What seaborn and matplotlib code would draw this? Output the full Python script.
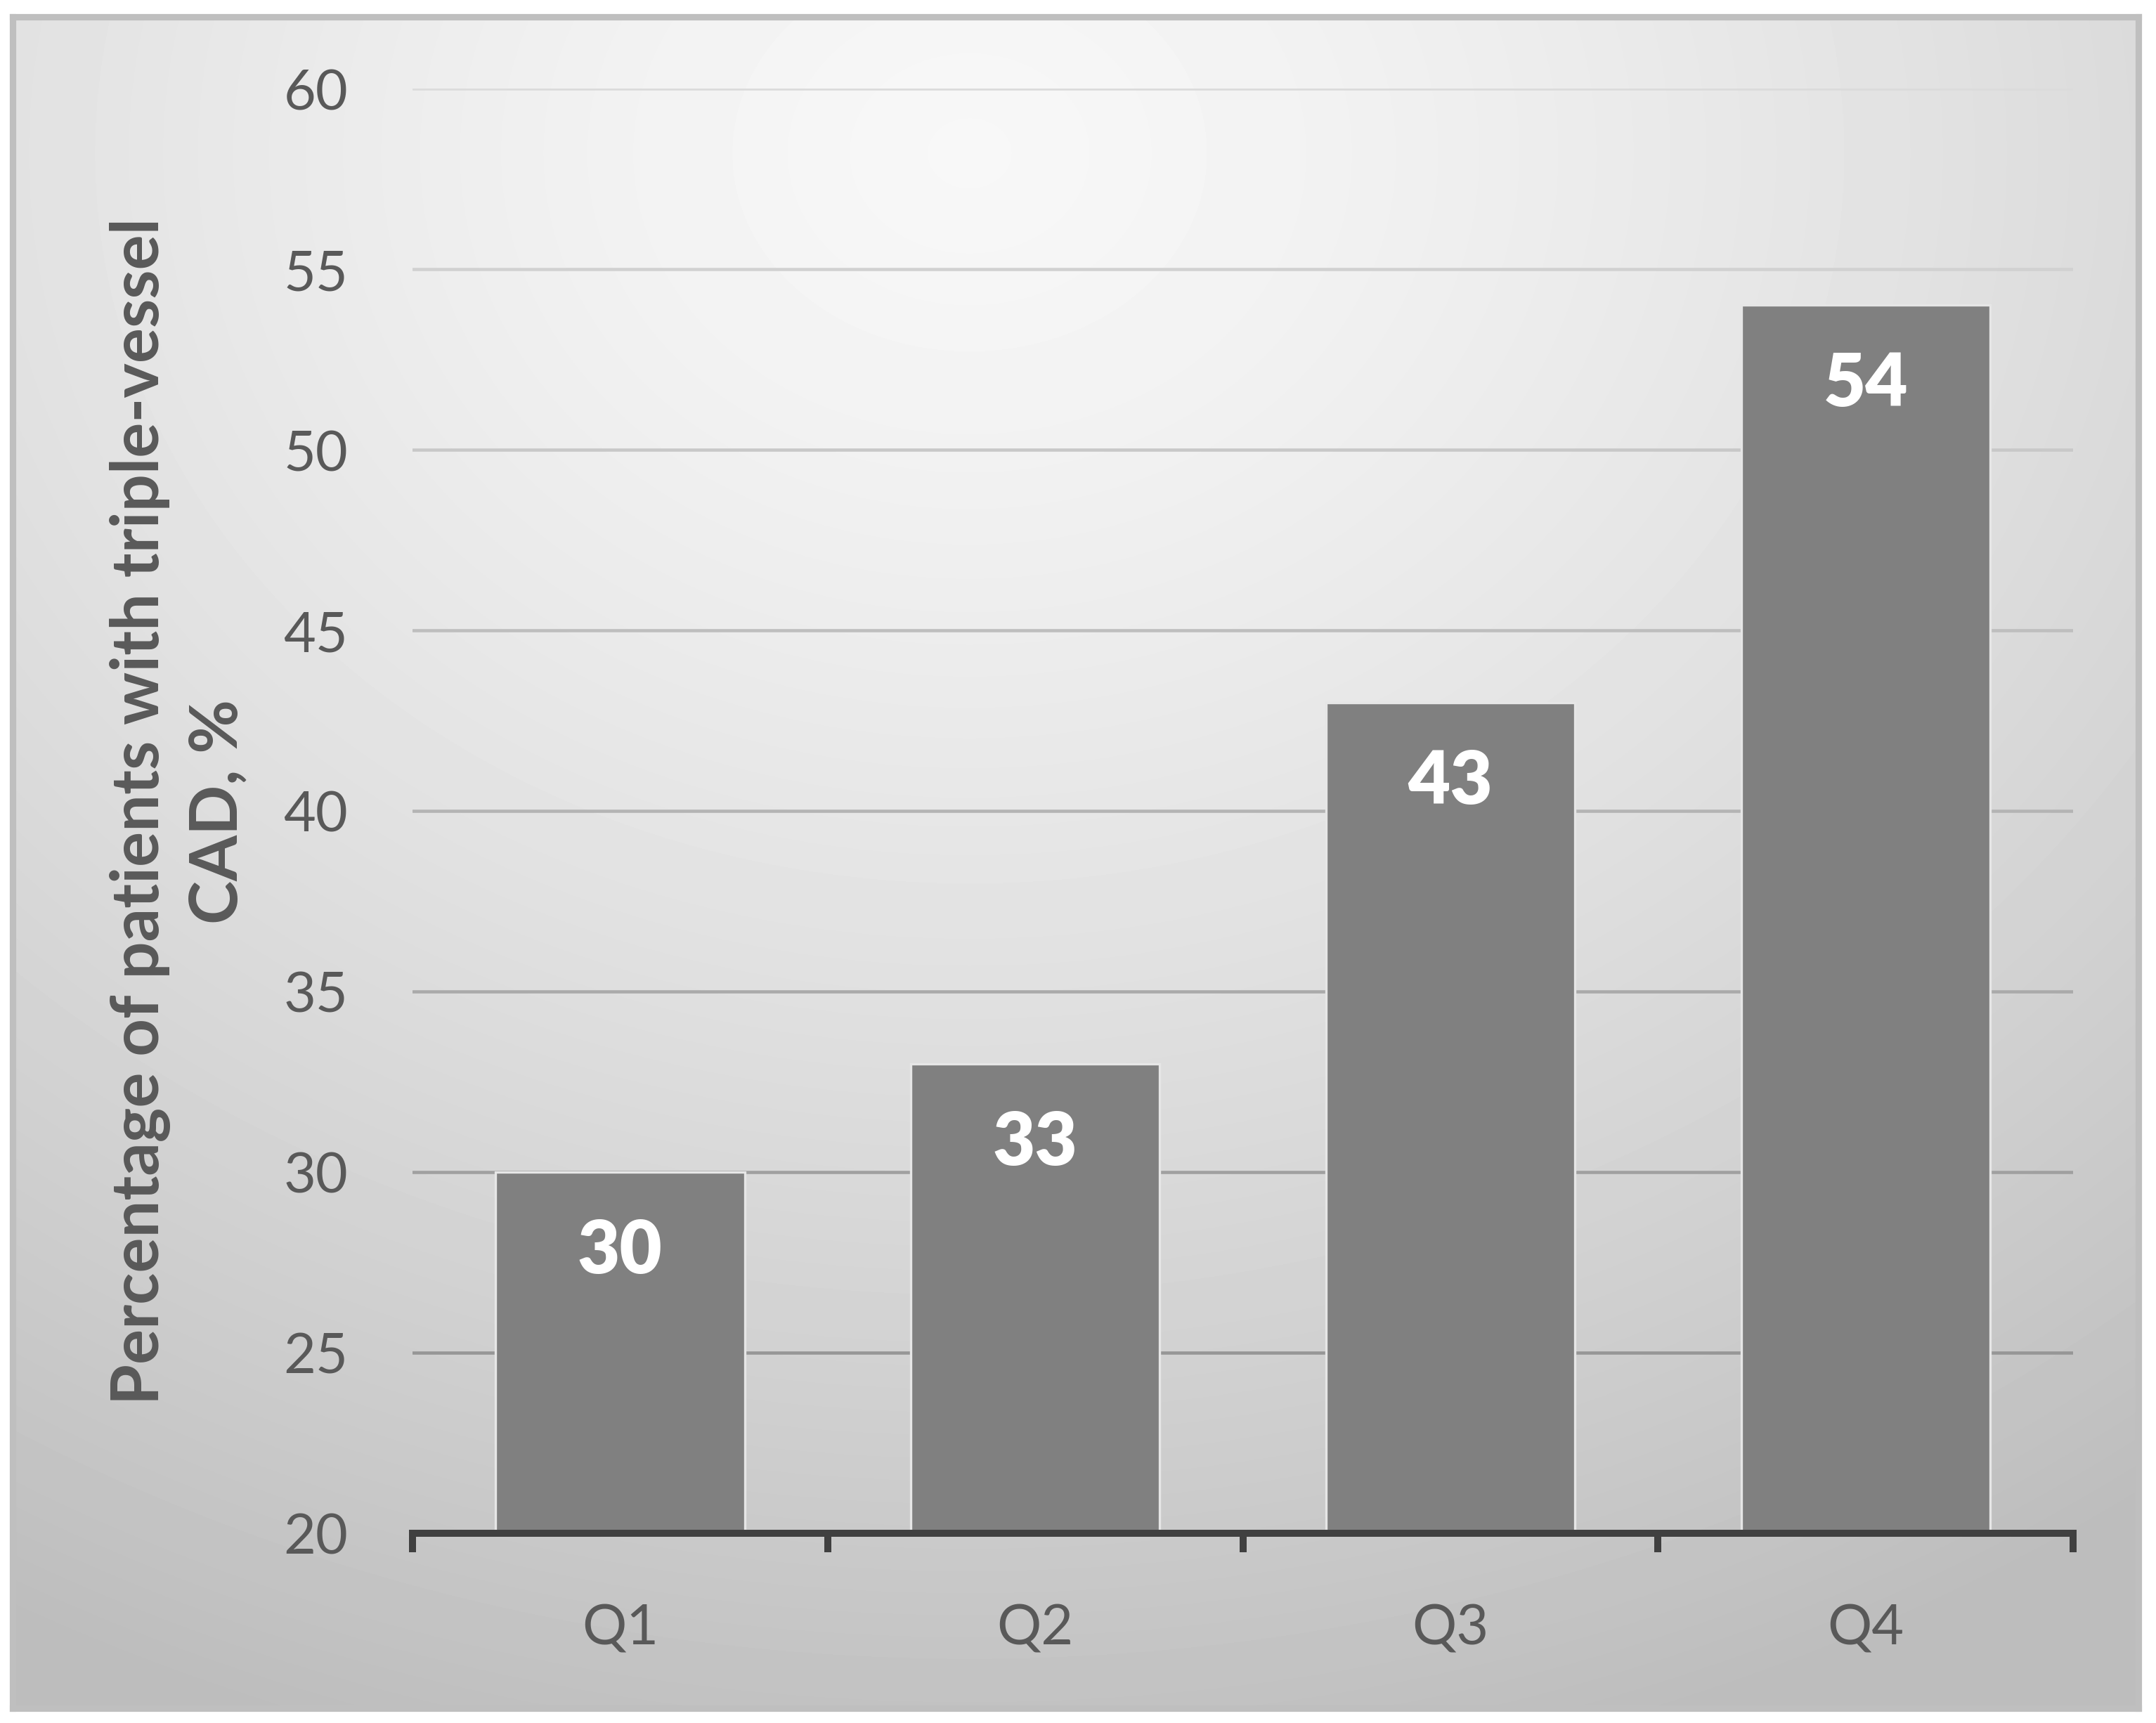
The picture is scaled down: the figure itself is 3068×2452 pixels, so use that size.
import matplotlib
matplotlib.use("Agg")
import matplotlib.pyplot as plt
import numpy as np
import pandas as pd
import seaborn as sns

quartiles = ["Q1", "Q2", "Q3", "Q4"]
pct_triple_vessel = [30, 33, 43, 54]
y_ticks = [20, 25, 30, 35, 40, 45, 50, 55, 60]

TEXT_GRAY = "#595959"

sns.set_theme(style="white")
plt.rcParams["font.family"] = ["Lato", "DejaVu Sans"]

fig = plt.figure(figsize=(3068 / 300, 2453 / 300), dpi=300)
fig.patch.set_facecolor("white")

# gradient panel behind the chart
bg = fig.add_axes([0.006, 0.0086, 0.986, 0.9812], zorder=0)
yy, xx = np.mgrid[0:1:600j, 0:1:750j]
dist = np.sqrt((xx - 0.45) ** 2 + ((yy - 0.08) / 1.05) ** 2)
shade = np.clip(0.97 - 0.25 * dist ** 1.35, 0.74, 1.0)
bg.imshow(shade, cmap="gray", vmin=0, vmax=1, aspect="auto",
          extent=[0, 1, 1, 0], interpolation="bilinear")
bg.set_xticks([])
bg.set_yticks([])
for s in bg.spines.values():
    s.set_color("#BFBFBF")
    s.set_linewidth(2.2)

ax = fig.add_axes([0.1913, 0.1101, 0.7703, 0.8381], zorder=1)
ax.patch.set_alpha(0)

df = pd.DataFrame({"quartile": quartiles, "pct": pct_triple_vessel})
sns.barplot(data=df, x="quartile", y="pct", color="#808080", saturation=1,
            width=0.6, edgecolor="#E6E6E6", linewidth=0.8, ax=ax, zorder=3)

ax.set_ylim(20, 60)
ax.set_xlim(-0.5, 3.5)
ax.set_yticks(y_ticks)
ax.set_yticklabels([str(t) for t in y_ticks])

# gridlines, darker toward bottom like the original
for t in y_ticks[1:]:
    frac = (60 - t) / 40
    c = np.interp(frac, [0, 1], [0.86, 0.55])
    ax.axhline(t, color=(c, c, c), linewidth=1.1, zorder=1)

for s in ["top", "right", "left"]:
    ax.spines[s].set_visible(False)
ax.spines["bottom"].set_color("#404040")
ax.spines["bottom"].set_linewidth(2.4)
ax.spines["bottom"].set_zorder(4)

ax.tick_params(axis="y", left=False, length=0, pad=22, labelsize=19, labelcolor=TEXT_GRAY)
ax.set_xticks(range(len(quartiles)), minor=False)
ax.set_xticks([-0.5, 0.5, 1.5, 2.5, 3.5], minor=True)
ax.tick_params(axis="x", which="major", bottom=False, length=0, pad=24,
               labelsize=19, labelcolor=TEXT_GRAY)
ax.tick_params(axis="x", which="minor", bottom=True, length=6.5, width=2.4,
               color="#404040", direction="out")

ax.set_xlabel("")
ax.set_ylabel("Percentage of patients with triple-vessel\nCAD, %", fontsize=22.5,
              fontweight="bold", color=TEXT_GRAY, labelpad=12, linespacing=1.35)

for i, v in enumerate(pct_triple_vessel):
    ax.annotate(str(v), xy=(i, v), xytext=(0, -27), textcoords="offset points",
                ha="center", va="center", fontsize=25, fontweight="heavy",
                color="white", zorder=5)

fig.savefig("out.png", dpi=300)
